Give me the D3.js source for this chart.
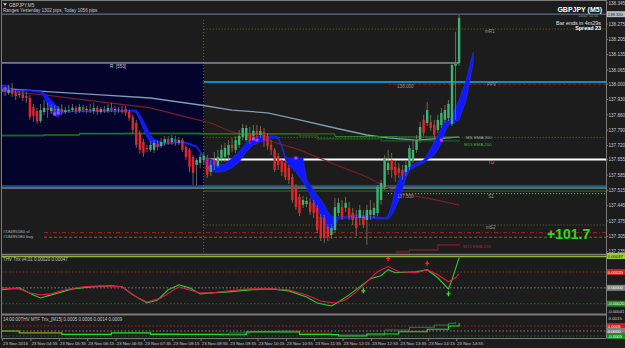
<!DOCTYPE html>
<html><head><meta charset="utf-8">
<script src="https://cdn.jsdelivr.net/npm/d3@7"></script>
<style>body{margin:0;background:#1c1c1c}svg{display:block}</style>
</head><body><svg id="c" width="625" height="348"></svg>
<script>
// ---------------- DATA ----------------
const symbol = "GBPJPY,M5";
const rangesText = "Ranges Yesterday 1302 pips, Today 1056 pips";
const firstBarTime = "04:10"; // M5 bars
// candles: [open, high, low, close]
const candles = [
[137.965,137.992,137.951,137.978],[137.978,137.988,137.946,137.965],[137.960,137.997,137.951,137.974],[137.974,138.006,137.942,137.956],
[137.960,137.974,137.928,137.946],[137.951,137.969,137.937,137.956],[137.956,137.974,137.924,137.937],[137.946,137.965,137.915,137.937],
[137.937,137.951,137.837,137.851],[137.896,137.910,137.828,137.855],[137.878,137.892,137.819,137.832],[137.832,137.910,137.823,137.882],
[137.873,137.928,137.860,137.892],[137.892,137.915,137.846,137.882],[137.878,137.910,137.864,137.892],[137.887,137.905,137.864,137.878],
[137.878,137.901,137.869,137.887],[137.887,137.910,137.860,137.873],[137.873,137.896,137.864,137.882],[137.882,137.905,137.869,137.882],
[137.882,137.910,137.873,137.892],[137.892,137.901,137.864,137.878],[137.878,137.910,137.869,137.896],[137.896,137.905,137.873,137.882],
[137.882,137.901,137.869,137.887],[137.887,137.910,137.869,137.878],[137.878,137.915,137.864,137.892],[137.892,137.901,137.860,137.873],
[137.873,137.896,137.864,137.887],[137.887,137.901,137.869,137.878],[137.878,137.910,137.869,137.892],[137.892,137.915,137.873,137.882],
[137.882,137.901,137.860,137.887],[137.887,137.896,137.869,137.882],[137.882,137.901,137.864,137.873],[137.887,137.901,137.855,137.869],
[137.873,137.882,137.832,137.846],[137.851,137.860,137.773,137.791],[137.823,137.837,137.709,137.723],[137.777,137.791,137.682,137.700],
[137.736,137.750,137.668,137.686],[137.709,137.723,137.691,137.704],[137.700,137.741,137.691,137.723],[137.700,137.745,137.686,137.732],
[137.727,137.745,137.700,137.713],[137.718,137.755,137.709,137.736],[137.732,137.764,137.718,137.750],[137.750,137.764,137.723,137.732],
[137.736,137.768,137.723,137.755],[137.750,137.764,137.718,137.736],[137.732,137.759,137.723,137.745],[137.745,137.755,137.691,137.700],
[137.713,137.723,137.654,137.668],[137.700,137.709,137.599,137.622],[137.668,137.677,137.540,137.595],[137.631,137.663,137.540,137.654],
[137.640,137.682,137.618,137.668],[137.654,137.686,137.631,137.672],[137.663,137.677,137.572,137.586],[137.599,137.654,137.581,137.631],
[137.654,137.691,137.608,137.631],[137.627,137.700,137.618,137.668],[137.663,137.723,137.645,137.700],[137.668,137.732,137.645,137.709],
[137.677,137.745,137.654,137.723],[137.723,137.755,137.691,137.709],[137.700,137.764,137.686,137.745],[137.723,137.791,137.709,137.764],
[137.759,137.819,137.745,137.800],[137.745,137.814,137.736,137.800],[137.777,137.805,137.727,137.741],[137.764,137.814,137.750,137.787],
[137.787,137.814,137.755,137.768],[137.768,137.809,137.755,137.787],[137.782,137.800,137.713,137.745],[137.764,137.777,137.700,137.718],
[137.723,137.745,137.677,137.700],[137.700,137.709,137.599,137.608],[137.672,137.686,137.608,137.631],[137.654,137.663,137.581,137.599],
[137.640,137.654,137.563,137.576],[137.618,137.631,137.544,137.563],[137.576,137.590,137.458,137.471],[137.531,137.544,137.426,137.439],
[137.485,137.499,137.398,137.412],[137.449,137.490,137.435,137.471],[137.453,137.485,137.439,137.467],[137.462,137.481,137.403,137.417],
[137.458,137.471,137.389,137.412],[137.435,137.449,137.321,137.334],[137.394,137.407,137.284,137.302],[137.389,137.403,137.275,137.298],
[137.348,137.362,137.284,137.302],[137.311,137.362,137.293,137.343],[137.334,137.481,137.321,137.439],[137.412,137.481,137.398,137.458],
[137.439,137.471,137.380,137.394],[137.435,137.485,137.417,137.458],[137.435,137.462,137.380,137.394],[137.412,137.435,137.357,137.380],
[137.394,137.426,137.307,137.343],[137.389,137.449,137.357,137.426],[137.389,137.426,137.343,137.357],[137.380,137.449,137.266,137.426],
[137.403,137.471,137.380,137.426],[137.403,137.458,137.389,137.435],[137.412,137.540,137.398,137.531],[137.471,137.563,137.449,137.549],
[137.531,137.677,137.517,137.663],[137.608,137.700,137.586,137.640],[137.654,137.686,137.572,137.608],[137.622,137.654,137.554,137.586],
[137.618,137.640,137.572,137.595],[137.608,137.631,137.563,137.586],[137.599,137.654,137.581,137.631],[137.622,137.723,137.608,137.709],
[137.654,137.745,137.640,137.700],[137.700,137.768,137.686,137.745],[137.745,137.828,137.732,137.805],[137.837,137.860,137.764,137.777],
[137.823,137.919,137.809,137.882],[137.828,137.860,137.787,137.800],[137.814,137.837,137.755,137.768],[137.791,137.860,137.777,137.837],
[137.814,137.892,137.800,137.869],[137.837,137.905,137.823,137.882],[137.846,137.928,137.832,137.910],[137.819,138.102,137.809,138.088],
[138.084,138.239,137.837,138.093],[138.097,138.316,138.084,138.303]
];
// blue band indicator (bar index, upper, lower)
const bandIdx = [0,2,3,8,11,12,13,14,15,16,17,18,37,38,39,40,41,42,43,44,45,46,50,52,55,57,58,60,62,63,65,67,69,71,73,75,77,78,79,80,81,83,85,86,87,89,91,92,93,94,95,98,100,103,106,108,109,110,111,112,113,114,115,117,119,120,122,123,124,125,126,127,129,131,133];
const bandHi = [137.997,137.992,137.974,137.974,137.969,137.960,137.946,137.928,137.910,137.892,137.882,137.878,137.882,137.882,137.860,137.832,137.800,137.768,137.750,137.741,137.736,137.732,137.736,137.736,137.718,137.672,137.663,137.654,137.631,137.636,137.663,137.691,137.732,137.755,137.764,137.764,137.764,137.759,137.723,137.668,137.663,137.663,137.663,137.563,137.540,137.494,137.449,137.417,137.398,137.394,137.394,137.398,137.403,137.398,137.394,137.389,137.398,137.449,137.517,137.563,137.599,137.622,137.627,137.640,137.654,137.677,137.736,137.768,137.800,137.828,137.837,137.855,137.928,138.019,138.147];
const bandLo = [137.965,137.965,137.967,137.969,137.962,137.942,137.905,137.873,137.855,137.851,137.869,137.873,137.876,137.869,137.837,137.796,137.759,137.732,137.718,137.713,137.718,137.727,137.732,137.729,137.711,137.663,137.608,137.599,137.599,137.604,137.618,137.645,137.691,137.723,137.736,137.745,137.755,137.750,137.713,137.654,137.631,137.599,137.554,137.526,137.494,137.426,137.371,137.334,137.321,137.357,137.385,137.389,137.389,137.389,137.385,137.385,137.385,137.403,137.435,137.471,137.517,137.572,137.608,137.627,137.640,137.654,137.677,137.700,137.736,137.782,137.814,137.819,137.837,137.928,138.102];
const magentaIdx = [1,15,16,58,71,72,83,99,102,124];
const magentaVal = [137.978,137.864,137.869,137.618,137.750,137.745,137.663,137.394,137.389,137.745];
// moving averages
const steelIdx = [0,14,28,42,56,65,75,84,94,103,109,117,126,129];
const steelVal = [137.981,137.965,137.951,137.937,137.905,137.882,137.869,137.837,137.800,137.768,137.755,137.745,137.755,137.759];
const maroonIdx = [0,12,28,42,52,59,65,75,84,93,103,109,112,121,129];
const maroonVal = [137.969,137.951,137.919,137.892,137.851,137.823,137.782,137.745,137.700,137.640,137.576,137.526,137.503,137.476,137.449];
const emaMsIdx = [0,5,12,22,56,84,94,112,129];
const emaMsVal = [137.764,137.764,137.768,137.773,137.773,137.773,137.761,137.759,137.757];
const emaM15Idx = [0,22,35,56,84,89,107,129];
const emaM15Val = [137.768,137.775,137.777,137.773,137.764,137.750,137.741,137.736];
const emaRedIdx = [111,115,123,129];
const emaRedVal = [137.234,137.243,137.266,137.270];
// horizontal levels
const levelNames = ["bid","mR1","R","PPV","r138000","mid","TD","yLow1","yLow2","S","r137500","mS2","sl","buy"];
const levelPrices = [138.320,138.252,138.097,138.010,138.000,137.757,137.656,137.535,137.526,137.512,137.500,137.357,137.322,137.301];
const levelStart = [-1,57,-1,57,109,57,57,-1,-1,57,109,57,12,12];
const yRangeBox = [138.097,137.531]; // yesterday range box
const sessionStartIdx = 57;
const levelLabels = ["R: [553]","mR1","PPV","138.000","TD","S1","137.500","mS2"];
const levelLabelIdx = [30.6,136.3,136.9,111.5,137.2,137.2,111.5,136.6];
const levelLabelVal = [138.097,138.252,138.010,138.000,137.656,137.500,137.500,137.357];
const tradeLabels = ["#18495180 sl","#18495180 buy"];
const profitText = "+101.7";
// price axis
const priceTicks = ["138.345","138.275","138.205","138.135","138.065","138.000","137.930","137.860","137.790","137.720","137.655","137.585","137.515","137.445","137.375","137.305","137.235"];
const bidLabel = "138.320";
// info
const infoTitle = "GBPJPY (M5)";
const infoLocal = "Local: 14:56";
const infoBar = "Bar ends in 4m29s";
const infoSpread = "Spread 23";
// Trix panel
const trixTitle = "THV Trix v4.01 0.00020 0.00047";
const trixIdx = [0,5,9,11,14,20,26,31,34,37,41,44,47,50,53,56,59,64,70,76,81,86,89,93,95,98,101,104,107,109,111,117,120,123,126,127,129];
const trixVal = [-0.000025,0,-0.000089,-0.000127,-0.000089,-0.000013,0.000013,0.000025,0.000013,-0.000089,-0.000191,-0.000153,-0.000025,0.000038,0,-0.000076,-0.000064,-0.000051,-0.000025,-0.000013,-0.000038,-0.000115,-0.000191,-0.000229,-0.000178,-0.000089,0.000013,0.000115,0.000153,0.000229,0.000191,0.000204,0.000229,0.000127,-0.000013,0.000102,0.000382];
const sigIdx = [0,5,8,11,14,18,23,28,34,38,41,45,50,52,56,59,64,70,76,81,86,90,94,97,100,103,106,109,112,117,120,123,126,128,129];
const sigVal = [0,-0.000013,-0.000064,-0.000089,-0.000076,-0.000025,0.000013,0.000025,0.000013,-0.000115,-0.000178,-0.000127,0.000013,-0.000013,-0.000064,-0.000064,-0.000038,-0.000013,-0.000013,-0.000025,-0.000089,-0.000166,-0.000191,-0.000153,-0.000051,0.000076,0.000204,0.000268,0.000204,0.000191,0.000229,0.000166,0.000076,0.000127,0.000178];
const sellMarkIdx = [109,120], sellMarkVal = [0.00037,0.00031];
const buyMarkIdx = [102,126], buyMarkVal = [-0.000038,-0.000076];
const trixLevels = [0.0002,0,-0.0002];
const trixAxisText = ["0.00047","0.00020","0.00000","-0.00020","-0.00041"];
const trixAxisVal = [0.00047,0.0002,0,-0.0002,-0.00041];
// MTF Trix panel
const mtfTitle = "14:00:00THV MTF Trix_[M15] 0.0005 0.0006 0.0014 0.0009";
const mtfAIdx = [0,5,17,31,50,64,70,78,82,84,93,101,108,115,122,126,128];
const mtfAVal = [0,-0.00015,-0.0003,-0.00025,-0.0003,-0.0002,-0.00005,0,0,-0.00023,-0.0004,-0.0004,0.0001,0.00037,0.0006,0.00077,0.00093];
const mtfBIdx = [0,5,17,31,35,42,62,69,78,84,95,103,112,120,126,129];
const mtfBVal = [0,-0.0002,-0.00035,-0.00017,-0.00017,-0.00035,-0.00037,-0.0001,-0.0001,-0.00035,-0.0005,-0.0003,-0.00007,0.00017,0.0005,0.00077];
const mtfLevels = [0.0005,0,-0.0005];
const mtfAxisText = ["0.0015","0.0005","0.0000","-0.0005"];
const mtfAxisVal = [0.0015,0.0005,0,-0.0005];
// time axis
const timeLabels = ["23 Nov 2016","23 Nov 04:55","23 Nov 05:35","23 Nov 06:15","23 Nov 06:55","23 Nov 07:35","23 Nov 08:15","23 Nov 08:55","23 Nov 09:35","23 Nov 10:15","23 Nov 10:55","23 Nov 11:35","23 Nov 12:15","23 Nov 12:55","23 Nov 13:35","23 Nov 14:15","23 Nov 14:55"];
const timeLabelIdx = [1,9,17,25,33,41,49,57,65,73,81,89,97,105,113,121,129];

// ---------------- LAYOUT ----------------
const W = 625, H = 348, AX = 606.5;
const MAIN = [1, 254], P1 = [256, 314], P2 = [315.5, 338];
const F = "Liberation Sans, Arial, sans-serif";
const svg = d3.select("#c");
svg.append("rect").attr("width", W).attr("height", H).attr("fill", "#1c1c1c");

const x = d3.scaleLinear().domain([0, candles.length - 1]).range([1.5, 459.1]);
const y = d3.scaleLinear().domain([137.235, 138.275]).range([251.7, 24]);
const yT = d3.scaleLinear().domain([-0.0002, 0.0002]).range([303.7, 272]);
const yM = d3.scaleLinear().domain([0, 0.0005]).range([331, 326]);

const defs = svg.append("defs");
function clip(id, y0, y1) {
  defs.append("clipPath").attr("id", id).append("rect").attr("x", 2).attr("y", y0).attr("width", AX - 2).attr("height", y1 - y0);
}
clip("cm", MAIN[0], MAIN[1]); clip("c1", P1[0], P1[1]); clip("c2", P2[0], P2[1]);
const main = svg.append("g").attr("clip-path", "url(#cm)");
const p1 = svg.append("g").attr("clip-path", "url(#c1)");
const p2 = svg.append("g").attr("clip-path", "url(#c2)");

function text(parent, tx, ty, s, size, color, weight, anchor) {
  return parent.append("text").attr("x", tx).attr("y", ty).text(s)
    .attr("font-family", F).attr("font-size", size).attr("fill", color)
    .attr("font-weight", weight || "normal").attr("text-anchor", anchor || "start");
}
const pts = (idx, val) => idx.map((d, k) => [d, val[k]]);

// yesterday range box
main.append("rect").attr("x", x(-1)).attr("y", y(yRangeBox[0]))
  .attr("width", x(sessionStartIdx) - x(-1)).attr("height", y(yRangeBox[1]) - y(yRangeBox[0]))
  .attr("fill", "#03032c");

// session separator
main.append("line").attr("x1", x(sessionStartIdx)).attr("x2", x(sessionStartIdx)).attr("y1", 20).attr("y2", MAIN[1])
  .attr("stroke", "#6b6b22").attr("stroke-dasharray", "1,2");

// levels
const levelStyle = {
  bid: ["#6c8098", 1, null], mR1: ["#6b6b22", 1, "1,2"], R: ["#c4c4d4", 1, null], PPV: ["#08b4ff", 1.6, null],
  r138000: ["#b02020", 1, "3,2"], mid: ["#6b6b22", 1, "1,2"], TD: ["#ffffff", 2, null], yLow1: ["#1e90d0", 1, null],
  yLow2: ["#a8b4c8", 1, null], S: ["#1f7a1f", 1, null], r137500: ["#9acd32", 1, "1,2"], mS2: ["#6b6b22", 1, "1,2"],
  sl: ["#b01e1e", 1, "4,2,1,2"], buy: ["#a0522d", 1, "3,2"]
};
levelNames.forEach((n, k) => {
  const st = levelStyle[n];
  const xEnd = n === "R" ? x(candles.length - 1) : AX;
  main.append("line").attr("x1", x(levelStart[k])).attr("x2", xEnd)
    .attr("y1", y(levelPrices[k])).attr("y2", y(levelPrices[k]))
    .attr("stroke", st[0]).attr("stroke-width", st[1]).attr("stroke-dasharray", st[2]);
});

// moving averages
const line = d3.line().x(d => x(d[0])).y(d => y(d[1]));
main.append("path").attr("d", line(pts(maroonIdx, maroonVal))).attr("fill", "none").attr("stroke", "#7a1e28").attr("stroke-width", 1.2);
main.append("path").attr("d", line(pts(steelIdx, steelVal))).attr("fill", "none").attr("stroke", "#7f9bb0").attr("stroke-width", 1.3);
main.append("path").attr("d", line.curve(d3.curveStepAfter)(pts(emaM15Idx, emaM15Val))).attr("fill", "none").attr("stroke", "#1a5e1a").attr("stroke-width", 1.2);
main.append("path").attr("d", line.curve(d3.curveStepAfter)(pts(emaMsIdx, emaMsVal))).attr("fill", "none").attr("stroke", "#2a7f2a").attr("stroke-width", 1);
main.append("path").attr("d", line.curve(d3.curveStepAfter)(pts(emaRedIdx, emaRedVal))).attr("fill", "none").attr("stroke", "#8b1a2a").attr("stroke-width", 1.2);
line.curve(d3.curveLinear);

// blue band
const band = bandIdx.map((d, k) => ({ i: d, hi: bandHi[k], lo: bandLo[k] }));
main.append("path").datum(band)
  .attr("d", d3.area().x(d => x(d.i)).y0(d => y(d.lo)).y1(d => y(d.hi)))
  .attr("fill", "#0f18ff").attr("stroke", "#2430ff").attr("stroke-width", 0.6);
main.selectAll(".mg").data(magentaIdx).join("rect")
  .attr("x", d => x(d) - 1.5).attr("y", (d, k) => y(magentaVal[k]) - 1.5).attr("width", 3).attr("height", 3)
  .attr("fill", "#c040ff");

// candles
const cg = main.append("g");
cg.selectAll("line").data(candles).join("line")
  .attr("x1", (d, i) => x(i)).attr("x2", (d, i) => x(i))
  .attr("y1", d => y(d[1])).attr("y2", d => y(d[2]))
  .attr("stroke", "#7f7f5c").attr("stroke-width", 0.8);
cg.selectAll("rect").data(candles).join("rect")
  .attr("x", (d, i) => x(i) - 1.2).attr("width", 2.4)
  .attr("y", d => y(Math.max(d[0], d[3])))
  .attr("height", d => Math.max(0.8, y(Math.min(d[0], d[3])) - y(Math.max(d[0], d[3]))))
  .attr("fill", d => d[3] >= d[0] ? "#3cb371" : "#e3262b");

// level labels
levelLabels.forEach((s, k) => {
  const off = k === 0 ? 4.6 : 4.2;
  text(svg, x(levelLabelIdx[k]), y(levelLabelVal[k]) + off, s, 4.6, k === 0 ? "#c8c8d8" : "#9a9a9a");
});
text(svg, x(129) + 7, y(emaMsVal[emaMsVal.length - 1]) + 2, "MS EMA 200", 4.4, "#8fb08f");
text(svg, x(129) + 5, y(emaM15Val[emaM15Val.length - 1]) + 3.5, "M15 EMA 200", 4.4, "#3cb043");
text(svg, x(129) + 4, y(emaRedVal[emaRedVal.length - 1]) + 3.5, "M15 EMA 200", 4.4, "#a02838");
text(svg, 3, y(levelPrices[12]) + 0.5, tradeLabels[0], 4.4, "#b8b8b8");
text(svg, 3, y(levelPrices[13]) + 0.5, tradeLabels[1], 4.4, "#b8b8b8");
text(svg, 547, 238.5, profitText, 14, "#22dd22", "bold");

// title
svg.append("path").attr("d", "M3,3.2 L7,3.2 L5,5.8 Z").attr("fill", "#d0d0d0");
text(svg, 9, 6.5, symbol, 4.6, "#c8c8c8");
text(svg, 3, 12, rangesText, 4.6, "#c8c8c8");
// info top-right
text(svg, 602, 12, infoTitle, 7, "#ffffff", "bold", "end");
text(svg, 598, 17, infoLocal, 3.6, "#9a9a9a", "normal", "end");
text(svg, 601, 24.5, infoBar, 5.4, "#e0e0e0", "normal", "end");
text(svg, 601, 29.5, infoSpread, 5.4, "#ffffff", "bold", "end");

// ---------- Trix panel ----------
const tl = d3.line().x(d => x(d[0])).y(d => yT(d[1]));
const tlCol = ["#a02020", "#808080", "#1e6e1e"];
trixLevels.forEach((v, k) => p1.append("line").attr("x1", 2).attr("x2", AX).attr("y1", yT(v)).attr("y2", yT(v))
  .attr("stroke", tlCol[k]).attr("stroke-dasharray", "1.5,2"));
p1.append("path").attr("d", tl(pts(trixIdx, trixVal))).attr("fill", "none").attr("stroke", "#2ecc2e").attr("stroke-width", 1.1);
p1.append("path").attr("d", tl(pts(sigIdx, sigVal))).attr("fill", "none").attr("stroke", "#e8174a").attr("stroke-width", 1.1);
function mark(i, v, col) {
  const cx = x(i), cy = yT(v);
  p1.append("path").attr("d", `M${cx},${cy - 2.5}V${cy + 2.5}M${cx - 2},${cy}H${cx + 2}`).attr("stroke", col).attr("stroke-width", 1.3);
}
sellMarkIdx.forEach((d, k) => mark(d, sellMarkVal[k], "#ff2020"));
buyMarkIdx.forEach((d, k) => mark(d, buyMarkVal[k], "#22ee22"));
text(svg, 3, 261, trixTitle, 4.5, "#c8c8c8");

// ---------- MTF panel ----------
const ml = d3.line().x(d => x(d[0])).y(d => yM(d[1])).curve(d3.curveStepAfter);
const mlCol = ["#a02020", "#808080", "#1e6e1e"];
mtfLevels.forEach((v, k) => p2.append("line").attr("x1", 2).attr("x2", AX).attr("y1", yM(v)).attr("y2", yM(v))
  .attr("stroke", mlCol[k]).attr("stroke-dasharray", "1.5,2"));
const mA = pts(mtfAIdx, mtfAVal);
for (let k = 0; k < mA.length - 1; k++) {
  const seg = [mA[k], [mA[k + 1][0], mA[k][1]], mA[k + 1]];
  p2.append("path").attr("d", d3.line().x(d => x(d[0])).y(d => yM(d[1]))(seg)).attr("fill", "none")
    .attr("stroke", mA[k + 1][1] < mA[k][1] ? "#d01818" : "#3f6f4f").attr("stroke-width", 1.1);
}
p2.append("path").attr("d", ml(pts(mtfBIdx, mtfBVal))).attr("fill", "none").attr("stroke", "#22e022").attr("stroke-width", 1.1);
text(svg, 3, 320.5, mtfTitle, 4.5, "#c8c8c8");

// ---------- frames ----------
const fr = svg.append("g").attr("stroke", "#7a7a7a");
fr.append("line").attr("x1", 1.5).attr("x2", 1.5).attr("y1", 0).attr("y2", 338);
fr.append("line").attr("x1", AX).attr("x2", AX).attr("y1", 0).attr("y2", 338);
fr.append("line").attr("x1", 1.5).attr("x2", AX).attr("y1", 0.5).attr("y2", 0.5);
fr.append("line").attr("x1", 1.5).attr("x2", AX).attr("y1", 254.5).attr("y2", 254.5).attr("stroke-width", 1.5);
svg.append("line").attr("x1", 1.5).attr("x2", AX).attr("y1", 256.5).attr("y2", 256.5).attr("stroke", "#8db33a").attr("stroke-width", 1.5);
fr.append("line").attr("x1", 1.5).attr("x2", AX).attr("y1", 314.6).attr("y2", 314.6).attr("stroke-width", 2);
fr.append("line").attr("x1", 1.5).attr("x2", AX).attr("y1", 338.5).attr("y2", 338.5);

// ---------- price axis ----------
priceTicks.forEach((s, k) => {
  const ty = k === 0 ? 4.5 : y(+s) + 1.7;
  text(svg, 608.5, ty, s, 4.6, "#c8c8c8");
  svg.append("line").attr("x1", AX).attr("x2", AX + 1.5).attr("y1", ty - 1.7).attr("y2", ty - 1.7).attr("stroke", "#7a7a7a");
});
function box(yy, bg, fg, s) {
  svg.append("rect").attr("x", 607).attr("y", yy - 3).attr("width", 18).attr("height", 6).attr("fill", bg);
  text(svg, 607.8, yy + 1.6, s, 4.2, fg);
}
box(y(+bidLabel), "#b4bcc8", "#1c1c1c", bidLabel);
const trixBox = [["#9acd32", "#1c1c1c"], ["#c81e1e", "#ffffff"], ["#808080", "#ffffff"], ["#1e8c1e", "#ffffff"], null];
trixAxisText.forEach((s, k) => {
  const yy = Math.max(P1[0], Math.min(P1[1] - 3, yT(trixAxisVal[k])));
  if (trixBox[k]) box(yy, trixBox[k][0], trixBox[k][1], s); else text(svg, 607.8, yy + 1.6, s, 4.2, "#c8c8c8");
});
const mtfBox = [null, ["#c81e1e", "#ffffff"], ["#808080", "#ffffff"], ["#1e8c1e", "#ffffff"]];
mtfAxisText.forEach((s, k) => {
  const yy = Math.max(P2[0] + 2.5, Math.min(P2[1] - 2, yM(mtfAxisVal[k])));
  if (mtfBox[k]) box(yy, mtfBox[k][0], mtfBox[k][1], s); else text(svg, 608.5, yy + 1.6, s, 4.4, "#c8c8c8");
});

// ---------- time axis ----------
timeLabels.forEach((s, k) => {
  const tx = x(timeLabelIdx[k]);
  svg.append("line").attr("x1", tx - 2.5).attr("x2", tx - 2.5).attr("y1", 338.5).attr("y2", 341).attr("stroke", "#7a7a7a");
  text(svg, tx - 2, 344.5, s, 4.4, "#c8c8c8");
});
</script>
</body></html>
